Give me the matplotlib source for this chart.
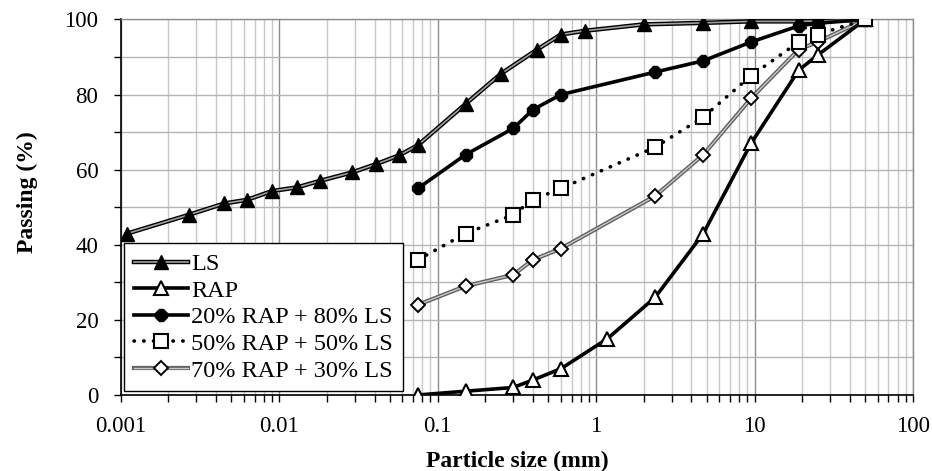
import matplotlib
matplotlib.use("Agg")
import matplotlib.pyplot as plt
from matplotlib.ticker import LogLocator, FixedLocator, NullFormatter
from matplotlib.lines import Line2D
from matplotlib.legend_handler import HandlerTuple

plt.rcParams['font.family'] = ['Liberation Serif', 'DejaVu Serif']

# Data
ls_x = [0.0011, 0.0027, 0.0045, 0.0063, 0.009, 0.013, 0.018, 0.029, 0.041, 0.057,
        0.075, 0.15, 0.25, 0.425, 0.6, 0.85, 2.0, 4.75, 9.5, 19, 25, 50]
ls_y = [43, 48, 51, 52, 54.3, 55.3, 57, 59.3, 61.5, 63.8,
        66.5, 77.5, 85.5, 92, 96, 97, 98.7, 99.1, 99.5, 99.5, 99.6, 100]

rap_x = [0.075, 0.15, 0.3, 0.4, 0.6, 1.18, 2.36, 4.75, 9.5, 19, 25, 50]
rap_y = [0, 1, 2, 4, 7, 15, 26, 43, 67, 86.5, 90.5, 100]

mix20_x = [0.075, 0.15, 0.3, 0.4, 0.6, 2.36, 4.75, 9.5, 19, 25, 50]
mix20_y = [55, 64, 71, 76, 80, 86, 89, 94, 98.3, 99, 100]

mix50_x = [0.075, 0.15, 0.3, 0.4, 0.6, 2.36, 4.75, 9.5, 19, 25, 50]
mix50_y = [36, 43, 48, 52, 55, 66, 74, 85, 94, 96, 100]

mix70_x = [0.075, 0.15, 0.3, 0.4, 0.6, 2.36, 4.75, 9.5, 19, 25, 50]
mix70_y = [24, 29, 32, 36, 39, 53, 64, 79, 92, 94, 100]

labels = ["LS", "RAP", "20% RAP + 80% LS", "50% RAP + 50% LS", "70% RAP + 30% LS"]
x_ticks = [0.001, 0.01, 0.1, 1, 10, 100]
x_tick_labels = ["0.001", "0.01", "0.1", "1", "10", "100"]
y_ticks = [0, 20, 40, 60, 80, 100]

fig = plt.figure(figsize=(9.32, 4.71), dpi=100)
ax = fig.add_axes([0.1295, 0.1614, 0.8501, 0.7972])

# LS: double line (black outline, gray core)
ax.plot(ls_x, ls_y, color='black', lw=3.2, zorder=3, solid_joinstyle='round')
ax.plot(ls_x, ls_y, color='#a0a0a0', lw=1.2, zorder=3.1)
ax.plot(ls_x, ls_y, ls='none', marker='^', ms=9.5, mfc='black', mec='black', zorder=3.2)

# RAP
ax.plot(rap_x, rap_y, color='black', lw=2.6, zorder=4)
ax.plot(rap_x, rap_y, ls='none', marker='^', ms=10, mfc='white', mec='black', mew=1.5, zorder=4.1)

# 20% RAP
ax.plot(mix20_x, mix20_y, color='black', lw=2.6, zorder=4)
ax.plot(mix20_x, mix20_y, ls='none', marker='8', ms=9, mfc='black', mec='black', zorder=4.1)

# 50% RAP
ax.plot(mix50_x, mix50_y, color='black', lw=2.6, ls=(0, (0.1, 2.6)), dash_capstyle='round', zorder=4)
ax.plot(mix50_x, mix50_y, ls='none', marker='s', ms=10, mfc='white', mec='black', mew=1.5, zorder=4.1)

# 70% RAP
ax.plot(mix70_x, mix70_y, color='#606060', lw=3.0, zorder=3.5)
ax.plot(mix70_x, mix70_y, color='#c8c8c8', lw=1.0, zorder=3.6)
ax.plot(mix70_x, mix70_y, ls='none', marker='D', ms=7.5, mfc='white', mec='black', mew=1.4, zorder=3.7)

ax.set_xscale('log')
ax.set_xlim(0.001, 100)
ax.set_ylim(0, 100)
ax.xaxis.set_major_locator(FixedLocator(x_ticks))
ax.set_xticklabels(x_tick_labels)
ax.xaxis.set_minor_locator(LogLocator(base=10, subs=range(2, 10), numticks=50))
ax.xaxis.set_minor_formatter(NullFormatter())
ax.yaxis.set_major_locator(FixedLocator(y_ticks))
ax.yaxis.set_minor_locator(FixedLocator([10, 30, 50, 70, 90]))

ax.grid(which='major', axis='x', color='#8c8c8c', lw=1.0, zorder=0)
ax.grid(which='minor', axis='x', color='#c8c8c8', lw=1.0, zorder=0)
ax.grid(which='both', axis='y', color='#b4b4b4', lw=1.0, zorder=0)
ax.set_axisbelow(True)

ax.tick_params(which='both', direction='out', length=5, width=1, color='black',
               labelsize=16.5)
ax.tick_params(axis='y', which='both', pad=11)
ax.tick_params(axis='x', which='both', pad=10)
for s in ['left', 'bottom']:
    ax.spines[s].set_color('black')
    ax.spines[s].set_linewidth(1.2)
for s in ['top', 'right']:
    ax.spines[s].set_color('#8c8c8c')
    ax.spines[s].set_linewidth(1.0)

ax.set_xlabel('Particle size (mm)', fontsize=17, fontweight='bold', labelpad=10)
ax.set_ylabel('Passing (%)', fontsize=17, fontweight='bold', labelpad=19)
ax.yaxis.label.set_y(0.54)

# Legend proxies
h_ls = (Line2D([], [], color='black', lw=3.2), Line2D([], [], color='#a0a0a0', lw=1.2),
        Line2D([], [], ls='none', marker='^', ms=9.5, mfc='black', mec='black'))
h_rap = Line2D([], [], color='black', lw=2.6, marker='^', ms=10, mfc='white', mec='black', mew=1.5)
h_20 = Line2D([], [], color='black', lw=2.6, marker='8', ms=9, mfc='black', mec='black')
h_50 = Line2D([], [], color='black', lw=2.6, ls=(0, (0.1, 2.6)), dash_capstyle='round',
              marker='s', ms=10, mfc='white', mec='black', mew=1.5)
h_70 = (Line2D([], [], color='#606060', lw=3.0), Line2D([], [], color='#c8c8c8', lw=1.0),
        Line2D([], [], ls='none', marker='D', ms=7.5, mfc='white', mec='black', mew=1.4))
leg = ax.legend([h_ls, h_rap, h_20, h_50, h_70], labels,
                handler_map={tuple: HandlerTuple(ndivide=1, pad=0)},
                loc='lower left', bbox_to_anchor=(0.0, 0.0), fontsize=17.5,
                frameon=True, fancybox=False, framealpha=1, edgecolor='black',
                borderpad=0.4, labelspacing=0.19, handlelength=2.2, handletextpad=0.15,
                borderaxespad=0.15)
leg.get_frame().set_linewidth(1.0)

fig.savefig('out.png', dpi=100)
